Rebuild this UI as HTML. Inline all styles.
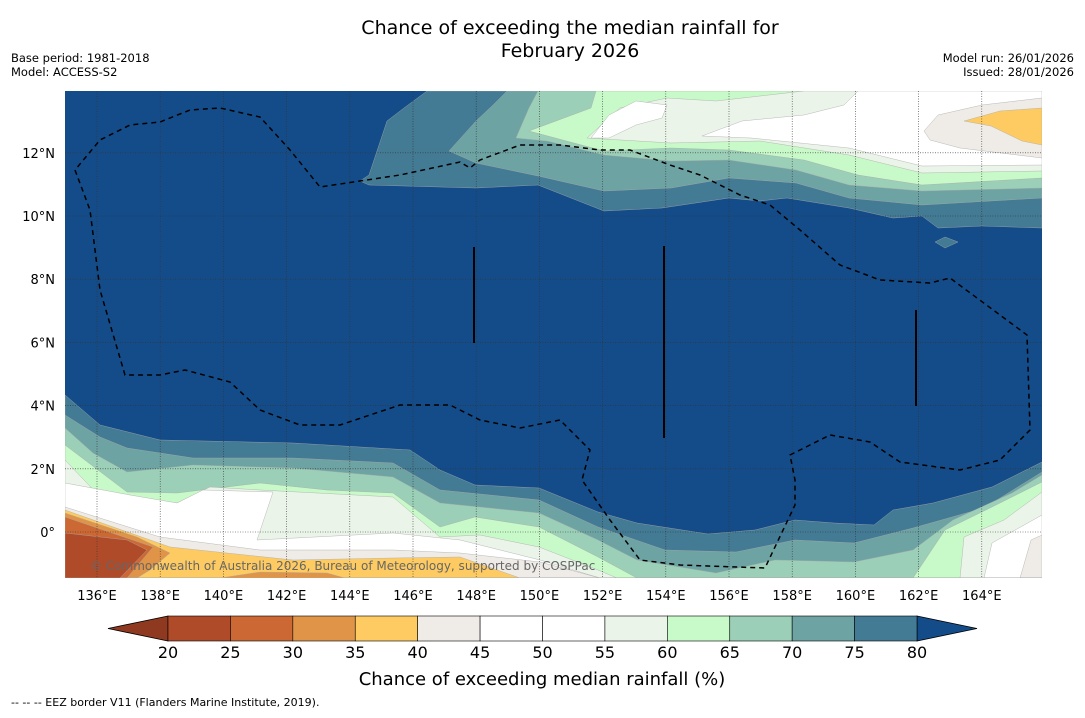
<!DOCTYPE html>
<html><head><meta charset="utf-8"><style>
body{margin:0;background:#fff;font-family:"Liberation Sans",sans-serif}
svg text{font-family:"DejaVu Sans","Liberation Sans",sans-serif}
</style></head><body>
<svg id="s" width="1085" height="713" xmlns="http://www.w3.org/2000/svg">
<text x="570" y="34" font-size="19" text-anchor="middle">Chance of exceeding the median rainfall for</text>
<text x="570" y="57" font-size="19" text-anchor="middle">February 2026</text>
<text x="11" y="62" font-size="11.5">Base period: 1981-2018</text>
<text x="11" y="76" font-size="11.5">Model: ACCESS-S2</text>
<text x="1074" y="62" font-size="11.5" text-anchor="end">Model run: 26/01/2026</text>
<text x="1074" y="76" font-size="11.5" text-anchor="end">Issued: 28/01/2026</text>
<defs><clipPath id="mc"><rect x="65" y="91" width="977" height="487"/></clipPath></defs>
<g clip-path="url(#mc)">
<rect x="65" y="91" width="977" height="487" fill="#144c89"/>
<g id="bands" stroke="#aaa" stroke-width="0.4"></g>
<g id="grid"></g>
<polyline id="eez" fill="none" stroke="#000" stroke-width="1.5" stroke-dasharray="5,4" points="75,170 90,210 100,290 125,375 160,375 185,370 230,382 260,410 300,425 340,425 400,405 450,405 480,420 520,428 560,420 590,450 582,480 610,520 640,560 680,565 765,568 795,505 795,480 790,455 830,435 870,442 900,462 960,470 1000,460 1030,430 1027,335 950,278 930,283 880,280 840,265 800,230 770,205 740,195 700,175 670,165 630,150 600,150 560,145 520,145 480,160 470,168 460,162 400,175 320,187 290,150 260,117 220,108 190,110 160,122 130,125 100,140 75,170"/>
<line x1="474" y1="247" x2="474" y2="343" stroke="#000" stroke-width="2"/>
<line x1="664" y1="246" x2="664" y2="438" stroke="#000" stroke-width="2"/>
<line x1="916" y1="310" x2="916" y2="406" stroke="#000" stroke-width="2"/>
<text x="90" y="570" font-size="12" fill="#666">© Commonwealth of Australia 2026, Bureau of Meteorology, supported by COSPPac</text>
</g>
<g id="axes"></g>
<g id="cbar"></g>
<text x="542" y="685" font-size="18" text-anchor="middle">Chance of exceeding median rainfall (%)</text>
<text x="11" y="706" font-size="11">--  --  -- EEZ border V11 (Flanders Marine Institute, 2019).</text>
</svg>
<script>
const cbTicks=[20,25,30,35,40,45,50,55,60,65,70,75,80];
const cbColors=["#b04b2a","#cc6833","#e09447","#fecb62","#efebe6","#ffffff","#ffffff","#eaf4e8","#c8f9c8","#9bcfb7","#6ea3a4","#437a94"];
const cbUnder="#8f3a20", cbOver="#144c89";
const lonTicks=[136,138,140,142,144,146,148,150,152,154,156,158,160,162,164];
const latTicks=[0,2,4,6,8,10,12];
const NS="http://www.w3.org/2000/svg";
const X=lon=>65.4+(lon-135)*31.6, Y=lat=>532-lat*31.6;
function mk(t,a,p){const e=document.createElementNS(NS,t);for(const k in a)e.setAttribute(k,a[k]);p.appendChild(e);return e;}
const bandsG=document.getElementById('bands');
// north: closed polygons
const northBands=[
["#437a94","427,91 404,108 387,121 369,175 360,181 369,185 476,188 538,185 604,211 662,208 729,198 760,201 787,198 849,208 893,218 922,216 938,228 982,226 1042,228 1042,91"],
["#6ea3a4","507,91 493,105 476,121 449,151 476,163 538,176 604,191 671,188 729,178 796,183 849,198 922,205 1042,198 1042,91"],
["#9bcfb7","538,91 529,108 516,138 547,141 604,155 671,161 729,160 796,170 849,185 922,191 1042,188 1042,91"],
["#c8f9c8","596,91 591,108 529,131 604,151 671,148 729,150 804,160 858,175 922,185 1042,178 1042,91"],
["#eaf4e8","587,138 620,108 667,98 716,101 804,91 1042,91 1042,171 922,173 849,155 760,141 671,143"],
["#ffffff","591,138 609,115 636,101 667,105 662,118 636,125 609,138"],
["#ffffff","702,136 742,121 804,115 844,105 858,91 1042,91 1042,165 922,166 849,148 751,138"],
["#efebe6","924,131 938,115 982,105 1042,98 1042,158 960,148 930,140"],
["#fecb62","964,121 1000,111 1042,108 1042,145 1022,141 991,126"],
["#437a94","935,242 945,237 958,242 945,248"]];
northBands.forEach((b,i)=>{const p=mk('polygon',{points:b[1],fill:b[0]},bandsG);
});
// south: fill below polyline
const southBands=[
["#437a94","65,395 100,425 160,440 293,443 410,450 440,470 475,485 539,488 598,512 637,523 708,534 755,530 795,520 834,523 874,525 893,510 933,503 992,487 1042,462"],
["#6ea3a4","65,415 100,437 127,448 193,458 293,458 393,463 440,490 539,500 598,527 665,550 736,552 795,540 854,543 913,528 984,508 1042,472"],
["#9bcfb7","65,428 93,453 127,472 193,465 293,468 393,477 440,503 539,513 598,540 637,560 716,573 775,560 854,562 913,550 953,520 1012,493 1042,475"],
["#c8f9c8","65,445 127,492 177,493 260,483 327,490 393,493 440,527 475,517 539,527 598,557 637,578 913,578 945,530 992,507 1042,482"],
["#eaf4e8","65,460 103,500 177,503 210,487 260,490 393,497 440,537 480,535 539,547 598,570 617,578 960,578 964,537 1004,520 1042,492"],
["#ffffff","65,483 130,495 177,503 203,490 273,492 257,540 393,533 460,540 540,560 600,578 984,578 992,543 1042,515"],
["#efebe6","65,507 160,537 260,550 393,550 460,553 540,562 600,578 1020,578 1031,540 1042,535"],
["#fecb62","65,510 170,547 293,560 393,558 460,557 520,578"],
["#e09447","65,513 137,537 170,553 150,570 137,578"],
["#cc6833","65,517 153,547 127,578"],
["#b04b2a","65,533 127,540 147,550 120,578"]];
southBands.forEach((b,i)=>{const p=mk('polygon',{points:b[1]+" 1042,578 65,578",fill:b[0]},bandsG);
});
const os=mk('polygon',{points:"220,578 260,572 327,573 345,578",fill:"#e09447"},bandsG);

const gG=document.getElementById('grid'),aG=document.getElementById('axes');
lonTicks.forEach(l=>{const ln=mk('line',{x1:X(l),x2:X(l),y1:91,y2:578,stroke:'#333','stroke-width':0.6,'stroke-dasharray':'1,1.5'},gG);

const t=mk('text',{x:X(l),y:600,'font-size':13,'text-anchor':'middle'},aG);t.textContent=l+'°E';
});
latTicks.forEach(l=>{const ln=mk('line',{x1:65,x2:1042,y1:Y(l),y2:Y(l),stroke:'#333','stroke-width':0.6,'stroke-dasharray':'1,1.5'},gG);

const t=mk('text',{x:55,y:Y(l)+5,'font-size':13,'text-anchor':'end'},aG);t.textContent=l===0?'0°':l+'°N';
});
const cG=document.getElementById('cbar');const cx0=168,cw=(917-168)/(cbTicks.length-1),cy=616,ch=25;
const ul=mk('polygon',{points:`${cx0},${cy} 108,${cy+ch/2} ${cx0},${cy+ch}`,fill:cbUnder,stroke:'#000','stroke-width':0.8},cG);

const xe=cx0+cw*(cbTicks.length-1);
const ov=mk('polygon',{points:`${xe},${cy} ${xe+60},${cy+ch/2} ${xe},${cy+ch}`,fill:cbOver,stroke:'#000','stroke-width':0.8},cG);

cbColors.forEach((c,i)=>{const r=mk('rect',{x:cx0+i*cw,y:cy,width:cw,height:ch,fill:c,stroke:'#000','stroke-width':0.6},cG);
});
cbTicks.forEach((t,i)=>{const e=mk('text',{x:cx0+i*cw,y:658,'font-size':16,'text-anchor':'middle'},cG);e.textContent=t;
});
</script>
</body></html>
